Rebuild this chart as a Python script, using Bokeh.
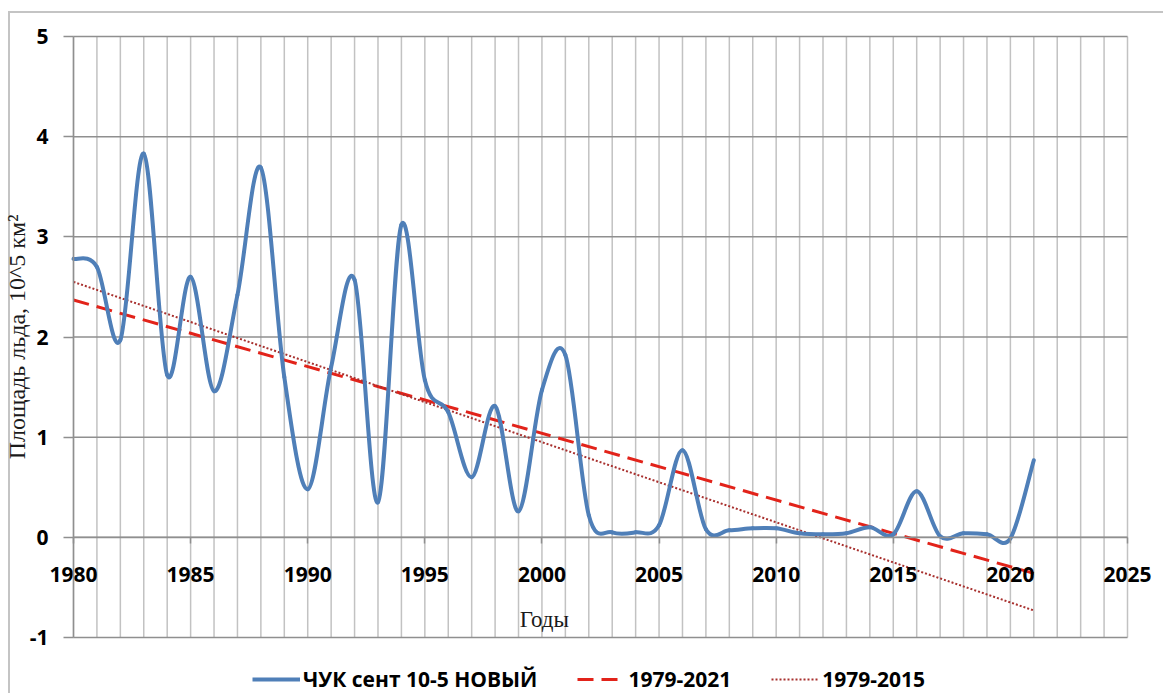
import numpy as np
from bokeh.plotting import figure
from bokeh.models import (Range1d, SingleIntervalTicker, Legend, LegendItem,
                          ColumnDataSource, Label, PrintfTickFormatter)
from bokeh.embed import file_html
from bokeh.resources import INLINE

# September ice area, Chukchi Sea sector (10^5 km^2)
years = list(range(1980, 2022))
ice_area = [2.78, 2.70, 1.97, 3.83, 1.62, 2.60, 1.46, 2.42, 3.69, 1.60,
            0.48, 1.70, 2.57, 0.35, 3.12, 1.57, 1.25, 0.60, 1.31, 0.26,
            1.47, 1.82, 0.22, 0.05, 0.05, 0.12, 0.87, 0.08, 0.07, 0.09,
            0.09, 0.04, 0.03, 0.04, 0.10, 0.03, 0.46, 0.01, 0.04, 0.03,
            -0.01, 0.77]

# Linear trend lines (values at the ends of the drawn span)
trend_years = [1980, 2021]
trend_1979_2021 = [2.37, -0.36]
trend_1979_2015 = [2.55, -0.73]

# plot area extents
x_start, x_end = 1980, 2025
y_low, y_high = -1, 5
grid_years = list(range(x_start, x_end + 1))
grid_levels = list(range(y_low, y_high + 1))

series_label = "ЧУК сент 10-5 НОВЫЙ"
trend_label_1 = "1979-2021"
trend_label_2 = "1979-2015"

SANS = "Open Sans"
SERIF = "Liberation Serif"
BLUE = "#4f7fb8"
RED = "#e2231a"
DOT_RED = "#a8302e"
GRID_V = "#c2c2c2"
GRID_H = "#8f8f8f"

# Page layout in pixels: the plot area spans 73..1127 horizontally and 36..637 vertically.
W, H = 1163, 693
AREA_L, AREA_R, AREA_T, AREA_B = 73, 1127, 36, 637
px_x = (AREA_R - AREA_L) / (x_end - x_start)
px_y = (AREA_B - AREA_T) / (y_high - y_low)

# The frame fills the whole canvas; axes are pinned to the plot area.
p = figure(width=W, height=H, output_backend="svg", toolbar_location=None,
           x_range=Range1d(x_start - AREA_L / px_x, x_end + (W - AREA_R) / px_x),
           y_range=Range1d(y_low - (H - AREA_B) / px_y, y_high + AREA_T / px_y),
           min_border_left=0, min_border_right=0, min_border_top=0, min_border_bottom=0)
p.border_fill_color = None
p.background_fill_color = None
p.outline_line_color = None
p.styles = {
    "background": "linear-gradient(#c4c4c4,#c4c4c4) 8px 11px / calc(100% - 8px) 2px no-repeat, "
                  "linear-gradient(#c4c4c4,#c4c4c4) 8px 11px / 2px calc(100% - 11px) no-repeat, #ffffff"
}

# grid: vertical line every year, horizontal every unit, limited to the plot area
p.xgrid.grid_line_color = None
p.ygrid.grid_line_color = None
p.segment(x0=grid_years, y0=[y_low] * len(grid_years), x1=grid_years, y1=[y_high] * len(grid_years),
          line_color=GRID_V, line_width=1.5, level="underlay")
p.segment(x0=[x_start] * len(grid_levels), y0=grid_levels, x1=[x_end] * len(grid_levels), y1=grid_levels,
          line_color=GRID_H, line_width=1.5, level="underlay")

# y axis along 1980
ya = p.yaxis[0]
ya.fixed_location = x_start
ya.ticker = SingleIntervalTicker(interval=1)
ya.bounds = (y_low, y_high)
ya.formatter = PrintfTickFormatter(format="%d")
ya.minor_tick_line_color = None
ya.major_tick_out = 10
ya.major_tick_in = 0
ya.major_tick_line_color = GRID_H
ya.major_tick_line_width = 1.5
ya.axis_line_color = GRID_H
ya.axis_line_width = 1.5
ya.major_label_standoff = 15
ya.major_label_text_font = SANS
ya.major_label_text_font_style = "bold"
ya.major_label_text_font_size = "21px"
ya.major_label_text_color = "black"
ya.axis_label = "Площадь льда, 10^5 км²"
ya.axis_label_text_font = SERIF
ya.axis_label_text_font_style = "normal"
ya.axis_label_text_font_size = "24px"
ya.axis_label_text_color = "#1a1a1a"
ya.axis_label_standoff = -3

# x axis along the zero line
xa = p.xaxis[0]
xa.fixed_location = 0
xa.ticker = SingleIntervalTicker(interval=5)
xa.bounds = (x_start, x_end)
xa.minor_tick_line_color = None
xa.major_tick_out = 6
xa.major_tick_in = 0
xa.major_tick_line_color = GRID_H
xa.major_tick_line_width = 1.5
xa.axis_line_color = GRID_H
xa.axis_line_width = 1.5
xa.major_label_standoff = 24
xa.major_label_text_font = SANS
xa.major_label_text_font_style = "bold"
xa.major_label_text_font_size = "21px"
xa.major_label_text_color = "black"

p.add_layout(Label(x=2000.1, y=-0.82, text="Годы", text_font=SERIF, text_font_size="23px",
                   text_align="center", text_baseline="middle", text_color="#1a1a1a"))

# trend lines
r_dash = p.line(trend_years, trend_1979_2021, line_color=RED, line_width=3, line_dash="16 8")
r_dot = p.line(trend_years, trend_1979_2015, line_color=DOT_RED, line_width=2, line_dash="2 2")

# smoothed series: cubic Bezier segments through the yearly values
x = np.array(years, dtype=float)
y = np.array(ice_area, dtype=float)
xp = np.concatenate([[x[0]], x, [x[-1]]])
yp = np.concatenate([[y[0]], y, [y[-1]]])
cx0 = x + (xp[2:] - xp[:-2]) / 6.0
cy0 = y + (yp[2:] - yp[:-2]) / 6.0
cx1 = x - (xp[2:] - xp[:-2]) / 6.0
cy1 = y - (yp[2:] - yp[:-2]) / 6.0
bsrc = ColumnDataSource(dict(x0=x[:-1], y0=y[:-1], x1=x[1:], y1=y[1:],
                             cx0=cx0[:-1], cy0=cy0[:-1], cx1=cx1[1:], cy1=cy1[1:]))
p.bezier(x0="x0", y0="y0", x1="x1", y1="y1", cx0="cx0", cy0="cy0", cx1="cx1", cy1="cy1",
         source=bsrc, line_color=BLUE, line_width=4, line_cap="round")
# legend swatch for the series (a single undrawn point)
r_blue = p.line(x=[float("nan")], y=[float("nan")], line_color=BLUE, line_width=4)

legend = Legend(items=[LegendItem(label=series_label, renderers=[r_blue]),
                       LegendItem(label=trend_label_1, renderers=[r_dash]),
                       LegendItem(label=trend_label_2, renderers=[r_dot])],
                orientation="horizontal", location=(252, 0),
                glyph_width=48, glyph_height=20, label_standoff=3, spacing=40,
                padding=0, margin=0, border_line_color=None, background_fill_alpha=0,
                label_text_font=SANS, label_text_font_style="bold", label_text_font_size="21px",
                label_text_color="black")
p.add_layout(legend)

open("out.html", "w").write(file_html(p, INLINE))
